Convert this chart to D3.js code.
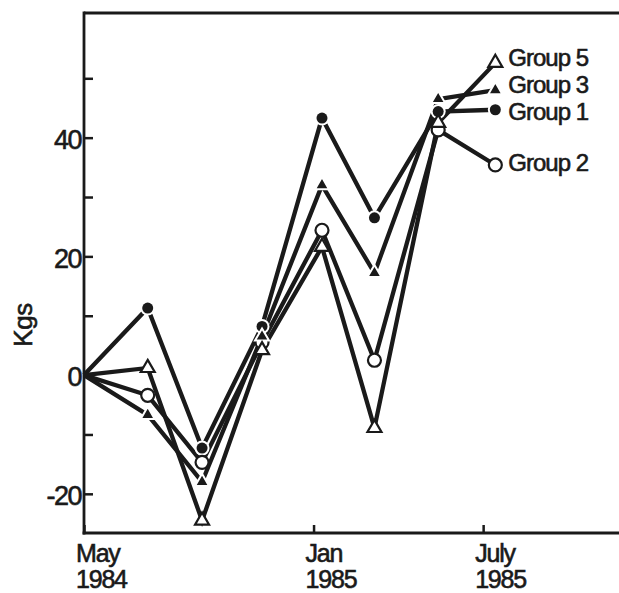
<!DOCTYPE html>
<html>
<head>
<meta charset="utf-8">
<script src="https://cdn.jsdelivr.net/npm/d3@7"></script>
<style>
  body { margin: 0; background: #fff; }
  text { font-family: "Liberation Sans", Arial, sans-serif; fill: #1a1a1a;
         stroke: #1a1a1a; stroke-width: 0.6px; }
</style>
</head>
<body>
<div id="chart"></div>
<script>
// Data
var dates = ["1984-05-01", "1984-07-08", "1984-09-04", "1984-11-07",
             "1985-01-10", "1985-03-07", "1985-05-14", "1985-07-14"];

var group1 = [0, 11.3, -12.3, 8.2, 43.3, 26.5, 44.4, 44.7];
var group2 = [0, -3.4, -14.7, 5.5, 24.4, 2.5, 41.3, 35.4];
var group3 = [0, -6.7, -18.0, 6.5, 32.0, 17.2, 46.5, 48.0];
var group5 = [0, 1.2, -24.5, 4.2, 21.6, -8.9, 42.5, 52.6];

var seriesNames = ["Group 1", "Group 2", "Group 3", "Group 5"];

var yTicks = [-20, -10, 0, 10, 20, 30, 40, 50];
var yLabelled = [-20, 0, 20, 40];

var xTickDates = ["1984-05-01", "1985-01-01", "1985-07-01"];
var xTickMonths = ["May", "Jan", "July"];
var xTickYears = ["1984", "1985", "1985"];

// SVG dimensions
var svgWidth = 619;
var svgHeight = 593;

var plot = { left: 84, right: 619, top: 13, bottom: 533 };

var parseDate = d3.timeParse("%Y-%m-%d");

var svg = d3.select("#chart")
  .append("svg")
  .attr("width", svgWidth)
  .attr("height", svgHeight);

// Scales
var xScale = d3.scaleTime()
  .domain([parseDate("1984-05-01"), parseDate("1985-11-23")])
  .range([plot.left, plot.right]);

var yScale = d3.scaleLinear()
  .domain([-26.6, 61])
  .range([plot.bottom, plot.top]);

// Build series
var seriesValues = [group1, group2, group3, group5];
var markerTypes = ["dot", "ring", "tri", "opentri"];
var series = seriesNames.map(function (name, i) {
  return {
    name: name,
    marker: markerTypes[i],
    points: dates.map(function (d, j) {
      return { date: parseDate(d), value: seriesValues[i][j] };
    })
  };
});

// Frame: top line
svg.append("line")
  .attr("x1", plot.left).attr("x2", plot.right)
  .attr("y1", plot.top).attr("y2", plot.top)
  .attr("stroke", "#1a1a1a").attr("stroke-width", 2.8);

// Y axis (ticks point inward)
var leftAxis = d3.axisLeft(yScale)
  .tickValues(yTicks)
  .tickSizeInner(-9)
  .tickSizeOuter(0)
  .tickPadding(3)
  .tickFormat(function (d) {
    return yLabelled.indexOf(d) >= 0 ? (d < 0 ? "-" + Math.abs(d) : d) : "";
  });

var yAxisG = svg.append("g")
  .attr("transform", "translate(" + plot.left + ",0)")
  .call(leftAxis);
yAxisG.select(".domain").remove();
yAxisG.selectAll(".tick line").attr("stroke", "#1a1a1a").attr("stroke-width", 2.5);
yAxisG.selectAll(".tick text")
  .attr("font-size", "27px")
  .attr("letter-spacing", "-1.5px")
  .attr("dy", "0.4em")
  .style("font-family", "'Liberation Sans', Arial, sans-serif")
  .attr("fill", "#1a1a1a");

svg.append("line")
  .attr("x1", plot.left).attr("x2", plot.left)
  .attr("y1", plot.top - 1.4).attr("y2", plot.bottom + 1.4)
  .attr("stroke", "#1a1a1a").attr("stroke-width", 2.8);

// X axis
var bottomAxis = d3.axisBottom(xScale)
  .tickValues(xTickDates.map(parseDate))
  .tickSizeInner(-8)
  .tickSizeOuter(0)
  .tickFormat("");

var xAxisG = svg.append("g")
  .attr("transform", "translate(0," + plot.bottom + ")")
  .call(bottomAxis);
xAxisG.select(".domain")
  .attr("d", "M" + (plot.left - 1.4) + ",0H" + plot.right)
  .attr("stroke", "#1a1a1a").attr("stroke-width", 2.8);
xAxisG.selectAll(".tick line").attr("stroke", "#1a1a1a").attr("stroke-width", 2.5);

var xLabels = svg.append("g").selectAll("text")
  .data(xTickDates)
  .enter()
  .append("text")
  .attr("x", function (d) { return xScale(parseDate(d)) - 8; })
  .attr("y", 562)
  .attr("font-size", "25px")
  .attr("letter-spacing", "-1.2px");
xLabels.append("tspan")
  .attr("x", function (d) { return xScale(parseDate(d)) - 8; })
  .text(function (d, i) { return xTickMonths[i]; });
xLabels.append("tspan")
  .attr("x", function (d) { return xScale(parseDate(d)) - 8; })
  .attr("dy", 26)
  .text(function (d, i) { return xTickYears[i]; });

// Y axis title
svg.append("text")
  .attr("transform", "translate(32,325) rotate(-90)")
  .attr("text-anchor", "middle")
  .attr("font-size", "26px")
  .attr("letter-spacing", "-0.5px")
  .text("Kgs");

// Lines
var line = d3.line()
  .x(function (d) { return xScale(d.date); })
  .y(function (d) { return yScale(d.value); });

svg.append("g").selectAll("path")
  .data(series)
  .enter()
  .append("path")
  .attr("d", function (d) { return line(d.points); })
  .attr("fill", "none")
  .attr("stroke", "#1a1a1a")
  .attr("stroke-width", 4.3)
  .attr("stroke-linejoin", "miter");

// Markers (skip the common starting point)
var triangle = d3.symbol().type(d3.symbolTriangle).size(85);

series.forEach(function (s) {
  var g = svg.append("g");
  var pts = s.points.slice(1);
  pts.forEach(function (p) {
    var cx = xScale(p.date), cy = yScale(p.value);
    if (s.marker === "dot") {
      g.append("circle").attr("cx", cx).attr("cy", cy).attr("r", 7.5).attr("fill", "#fff");
      g.append("circle").attr("cx", cx).attr("cy", cy).attr("r", 5.5).attr("fill", "#1a1a1a");
    } else if (s.marker === "ring") {
      g.append("circle").attr("cx", cx).attr("cy", cy).attr("r", 6.5)
        .attr("fill", "#fff").attr("stroke", "#1a1a1a").attr("stroke-width", 2.2);
    } else if (s.marker === "tri") {
      g.append("path").attr("d", triangle())
        .attr("transform", "translate(" + cx + "," + cy + ")")
        .attr("fill", "#1a1a1a").attr("stroke", "#fff").attr("stroke-width", 2);
    } else {
      g.append("path").attr("d", triangle())
        .attr("transform", "translate(" + cx + "," + cy + ")")
        .attr("fill", "#fff").attr("stroke", "#1a1a1a").attr("stroke-width", 2.2);
    }
  });
});

// Series labels at the end points, nudged apart so they do not collide
var labels = series.map(function (s) {
  var last = s.points[s.points.length - 1];
  return { name: s.name, x: xScale(last.date) + 13, y: yScale(last.value) - 3 };
}).sort(function (a, b) { return a.y - b.y; });

var minGap = 27;
for (var iter = 0; iter < 20; iter++) {
  for (var k = 1; k < labels.length; k++) {
    var gap = labels[k].y - labels[k - 1].y;
    if (gap < minGap) {
      var shift = (minGap - gap) / 2;
      labels[k - 1].y -= shift;
      labels[k].y += shift;
    }
  }
}

svg.append("g").selectAll("text")
  .data(labels)
  .enter()
  .append("text")
  .attr("x", function (d) { return d.x; })
  .attr("y", function (d) { return d.y; })
  .attr("dy", "0.36em")
  .attr("font-size", "24px")
  .attr("letter-spacing", "-1px")
  .text(function (d) { return d.name; });
</script>
</body>
</html>
